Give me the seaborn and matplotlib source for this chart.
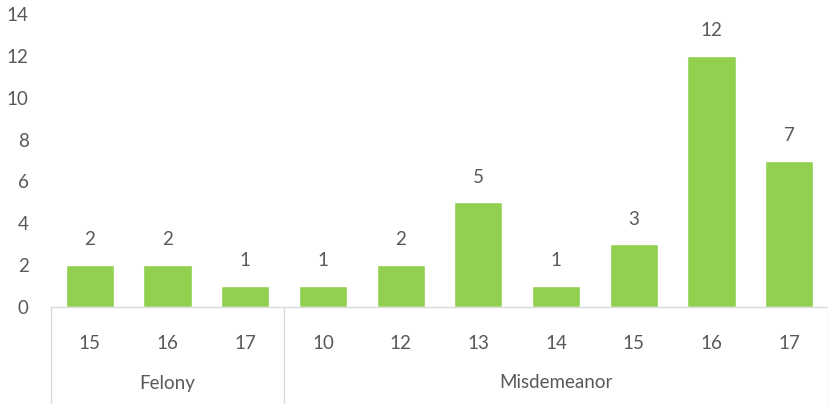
import pandas as pd
import seaborn as sns
import matplotlib.pyplot as plt
from matplotlib.transforms import blended_transform_factory

# values
groups = ["Felony", "Felony", "Felony",
          "Misdemeanor", "Misdemeanor", "Misdemeanor", "Misdemeanor",
          "Misdemeanor", "Misdemeanor", "Misdemeanor"]
ages = ["15", "16", "17", "10", "12", "13", "14", "15", "16", "17"]
counts = [2, 2, 1, 1, 2, 5, 1, 3, 12, 7]

df = pd.DataFrame({"group": groups, "age": ages, "count": counts})
df["key"] = df["group"] + " " + df["age"]

sns.set_style("white")
plt.rcParams["font.family"] = ["Lato", "DejaVu Sans"]
txt = "#595959"
line = "#d9d9d9"
fs = 13.5

fig = plt.figure(figsize=(8.29, 4.04), dpi=100)
ax = fig.add_axes([51 / 829, 1 - 307 / 404, 777 / 829, 293 / 404])

sns.barplot(data=df, x="key", y="count", order=list(df["key"]),
            color="#92D050", saturation=1, width=0.62, ax=ax)

ax.set_ylim(0, 14)
ax.set_yticks(range(0, 15, 2))
ax.set_xlim(-0.5, len(df) - 0.5)
ax.set_xlabel("")
ax.set_ylabel("")
ax.tick_params(axis="y", length=0, labelsize=fs, labelcolor=txt, pad=16)
ax.tick_params(axis="x", length=0, labelsize=fs, labelcolor=txt, pad=20)
ax.set_xticks(range(len(df)))
ax.set_xticklabels(df["age"])
for s in ["top", "right", "left"]:
    ax.spines[s].set_visible(False)
ax.spines["bottom"].set_color(line)
ax.spines["bottom"].set_linewidth(1)

for c in ax.containers:
    ax.bar_label(c, padding=12, fontsize=fs, color=txt)

# group separators and group labels
trans = blended_transform_factory(ax.transData, fig.transFigure)
bounds = [-0.5]
names = []
for g in df["group"]:
    if not names or names[-1] != g:
        names.append(g)
spans = []
for g in names:
    idx = df.index[df["group"] == g]
    spans.append((idx.min(), idx.max()))
    bounds.append(idx.max() + 0.5)
y0 = 1 - 307 / 404
for b in bounds:
    ax.plot([b, b], [y0, 0], transform=trans, color=line, lw=1, clip_on=False)
for g, (a, b) in zip(names, spans):
    ax.text((a + b) / 2, 1 - 383 / 404, g, transform=trans, ha="center",
            va="center", fontsize=fs, color=txt)

fig.savefig("out.png", dpi=100)
